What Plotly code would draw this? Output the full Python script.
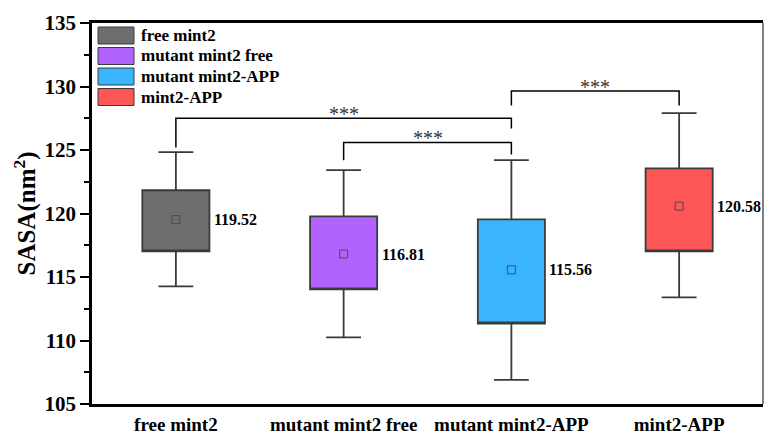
import plotly.graph_objects as go

# ---- data ----
categories = ["free mint2", "mutant mint2 free", "mutant mint2-APP", "mint2-APP"]
q1 = [117.02, 114.02, 111.34, 117.02]
q3 = [121.83, 119.78, 119.54, 123.56]
lower_whisker = [114.26, 110.24, 106.90, 113.40]
upper_whisker = [124.83, 123.41, 124.20, 127.90]
means = [119.52, 116.81, 115.56, 120.58]
mean_labels = ["119.52", "116.81", "115.56", "120.58"]
colors = ["#6e6e6e", "#b163ff", "#3bb4fe", "#fe5656"]

# significance brackets: (left category, right category, left end, bar height, right end, label)
bracket_left = ["free mint2", "mutant mint2 free", "mutant mint2-APP"]
bracket_right = ["mutant mint2-APP", "mutant mint2-APP", "mint2-APP"]
bracket_left_end = [125.2, 124.2, 128.5]
bracket_height = [127.5, 125.6, 129.65]
bracket_right_end = [126.7, 124.65, 128.5]
bracket_text = ["***", "***", "***"]

FONT = "Liberation Serif, Times New Roman, serif"
EDGE = "#3a3a3a"

fig = go.Figure()

for i, cat in enumerate(categories):
    fig.add_trace(go.Box(
        x=[cat], q1=[q1[i]], median=[q1[i]], q3=[q3[i]],
        lowerfence=[lower_whisker[i]], upperfence=[upper_whisker[i]],
        name=cat, width=0.4, whiskerwidth=0.52,
        fillcolor=colors[i], line=dict(color=EDGE, width=1.8),
        boxpoints=False, showlegend=False, hoverinfo="skip",
    ))

fig.add_trace(go.Scatter(
    x=categories, y=means, mode="markers",
    marker=dict(symbol="square-open", size=8, color="#4a4a4a", line=dict(width=1)),
    showlegend=False, hoverinfo="skip",
))

for i, cat in enumerate(categories):
    fig.add_annotation(x=cat, y=means[i], text=mean_labels[i], showarrow=False,
                       xanchor="left", yanchor="middle", xshift=36,
                       font=dict(family=FONT, size=16, color="black", weight="bold"))

for i in range(len(bracket_left)):
    fig.add_trace(go.Scatter(
        x=[bracket_left[i], bracket_left[i], bracket_right[i], bracket_right[i]],
        y=[bracket_left_end[i], bracket_height[i], bracket_height[i], bracket_right_end[i]],
        mode="lines", line=dict(color="black", width=1.5),
        showlegend=False, hoverinfo="skip",
    ))
    ci = categories.index(bracket_left[i])
    cj = categories.index(bracket_right[i])
    fig.add_annotation(x=(ci + cj) / 2, y=bracket_height[i], text=bracket_text[i],
                       showarrow=False, yanchor="bottom", yshift=-9,
                       font=dict(family=FONT, size=20, color="#333333"))

# ---- manual legend (pixel layout helpers) ----
W, H = 764, 435
ml, mr, mt, mb = 92, 1, 23, 31
pw, ph = W - ml - mr, H - mt - mb


def px_x(p):
    return (p - ml) / pw


def px_y(p):
    return (H - mb - p) / ph


for i, cat in enumerate(categories):
    top = 27 + i * 20.5
    fig.add_shape(type="rect", xref="paper", yref="paper",
                  x0=px_x(98), x1=px_x(134), y0=px_y(top + 17), y1=px_y(top),
                  fillcolor=colors[i], line=dict(color=EDGE, width=1))
    fig.add_annotation(xref="paper", yref="paper", x=px_x(139), y=px_y(top + 8.5),
                       text=cat, showarrow=False, xanchor="left", yanchor="middle",
                       font=dict(family=FONT, size=17, color="black", weight="bold"))

# right spine (thin)
fig.add_shape(type="line", xref="paper", yref="paper", x0=1, x1=1, y0=0, y1=1,
              line=dict(color="black", width=1))

fig.update_layout(
    width=W, height=H,
    margin=dict(l=ml, r=mr, t=mt, b=mb),
    paper_bgcolor="white", plot_bgcolor="white",
    font=dict(family=FONT, color="black"),
    xaxis=dict(type="category", range=[-0.5, 3.5], showgrid=False, zeroline=False,
               showline=True, linewidth=2.5, linecolor="black", mirror=True,
               ticks="", tickfont=dict(family=FONT, size=19, weight="bold"),
               ticklabelstandoff=1, automargin=False),
    yaxis=dict(range=[105, 135], dtick=5, showgrid=False, zeroline=False,
               showline=True, linewidth=2.5, linecolor="black",
               ticks="outside", ticklen=9, tickwidth=2, tickcolor="black",
               minor=dict(dtick=2.5, ticks="outside", ticklen=5, tickwidth=2, tickcolor="black"),
               tickfont=dict(family=FONT, size=21, weight="bold"), automargin=False,
               title=dict(text="SASA(nm<sup>2</sup>)", standoff=2,
                          font=dict(family=FONT, size=25, weight="bold"))),
)

fig.write_html("out.html")
